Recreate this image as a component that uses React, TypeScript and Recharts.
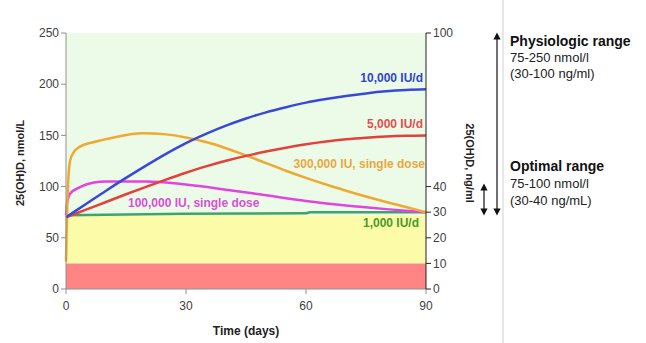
import { ComposedChart, Line, XAxis, YAxis, ReferenceArea } from "recharts"

const dailyDays = [0, 5, 10, 15, 20, 25, 30, 35, 40, 45, 50, 55, 60, 65, 70, 75, 80, 85, 90]
const iu10000 = [70, 83, 96, 108.5, 120.5, 132, 142.5, 151.5, 159.5, 166.5, 172.5, 177.5, 182, 185.5, 188.5, 191, 193, 194.3, 195]
const iu5000 = [70, 77.5, 85, 92.5, 99.8, 106.8, 113.5, 119.7, 125.2, 130, 134.2, 138, 141.3, 144, 146.2, 147.8, 149, 149.7, 150]

const greenDays = [0, 30, 60, 61, 90]
const iu1000 = [72, 73.5, 74, 75, 75]

const bolus300Days = [0, 0.3, 1, 2, 3.5, 7, 12, 19, 25, 30, 35, 40, 45, 50, 55, 60, 65, 70, 75, 80, 85, 90]
const bolus300 = [27, 80, 125, 134, 139, 143.5, 148, 152, 151, 148, 143.5, 137.5, 130.5, 123, 115.5, 108.5, 102, 96, 90.3, 85, 80, 75]

const bolus100Days = [0, 0.3, 1, 3.5, 7, 10, 20, 30, 40, 50, 60, 70, 80, 90]
const bolus100 = [72, 85, 93, 99.5, 104, 105, 105, 102, 97, 91.5, 86, 81.5, 78, 75]

// ng/ml scale only carries the axis
const ngRange = [0, 100]

const xTicks = [0, 30, 60, 90]
const nmolTicks = [0, 50, 100, 150, 200, 250]
const ngTicks = [0, 10, 20, 30, 40, 100]

const toPoints = (days: number[], vals: number[]) => days.map((d, i) => ({ day: d, v: vals[i] }))

const font = "'Liberation Sans', Arial, sans-serif"
const tick = { fontSize: 12, fill: "#404040", fontFamily: font }

export default function App() {
  return (
    <div style={{ position: "absolute", left: 0, top: 0, width: 646, height: 343, background: "#fff" }}>
      <ComposedChart width={646} height={343} margin={{ top: 33, right: 180, bottom: 24, left: 16 }}>
        <ReferenceArea yAxisId="nmol" x1={0} x2={90} y1={72} y2={250} fill="#ebfbe8" fillOpacity={1} />
        <ReferenceArea yAxisId="nmol" x1={0} x2={90} y1={25} y2={72} fill="#fbfba8" fillOpacity={1} />
        <ReferenceArea yAxisId="nmol" x1={0} x2={90} y1={0} y2={25} fill="#ff8585" fillOpacity={1} />
        <XAxis
          dataKey="day"
          type="number"
          domain={[0, 90]}
          ticks={xTicks}
          height={30}
          tick={tick}
          tickSize={5}
          tickMargin={7}
          stroke="#909090"
          allowDuplicatedCategory={false}
          label={{ value: "Time (days)", position: "insideBottom", offset: -16, fontSize: 12, fontWeight: "bold", fill: "#222", fontFamily: font }}
        />
        <YAxis
          yAxisId="nmol"
          domain={[0, 250]}
          ticks={nmolTicks}
          width={50}
          tick={tick}
          tickSize={5}
          stroke="#909090"
          label={{ value: "25(OH)D, nmol/L", angle: -90, position: "insideLeft", offset: 4, dy: 45, fontSize: 11, fontWeight: "bold", fill: "#222", fontFamily: font }}
        />
        <YAxis
          yAxisId="ng"
          orientation="right"
          type="number"
          domain={[0, 100]}
          ticks={ngTicks}
          interval={0}
          width={40}
          tick={tick}
          tickSize={5}
          stroke="#222"
        />
        <Line yAxisId="ng" data={toPoints([0, 90], ngRange)} dataKey="v" stroke="none" dot={false} activeDot={false} isAnimationActive={false} />
        <Line yAxisId="nmol" type="monotone" data={toPoints(greenDays, iu1000)} dataKey="v" stroke="#3fa46c" strokeWidth={2.5} dot={false} isAnimationActive={false} />
        <Line yAxisId="nmol" type="monotone" data={toPoints(bolus100Days, bolus100)} dataKey="v" stroke="#e443e4" strokeWidth={2.5} dot={false} isAnimationActive={false} />
        <Line yAxisId="nmol" type="monotone" data={toPoints(bolus300Days, bolus300)} dataKey="v" stroke="#f0a830" strokeWidth={2.5} dot={false} isAnimationActive={false} />
        <Line yAxisId="nmol" type="monotone" data={toPoints(dailyDays, iu5000)} dataKey="v" stroke="#e2413c" strokeWidth={2.5} dot={false} isAnimationActive={false} />
        <Line yAxisId="nmol" type="monotone" data={toPoints(dailyDays, iu10000)} dataKey="v" stroke="#3a48d8" strokeWidth={2.5} dot={false} isAnimationActive={false} />
      </ComposedChart>
      <svg width={646} height={343} style={{ position: "absolute", left: 0, top: 0, pointerEvents: "none" }} fontFamily={font}>
        <defs>
          <marker id="ah" viewBox="0 0 10 10" refX="5" refY="5" markerWidth="6" markerHeight="6" orient="auto-start-reverse">
            <path d="M0,0 L10,5 L0,10 z" fill="#111" />
          </marker>
        </defs>
        <g fontSize={12} fontWeight="bold" textAnchor="end">
          <text x={423} y={82} fill="#3344cc">10,000 IU/d</text>
          <text x={423} y={128} fill="#e05050">5,000 IU/d</text>
          <text x={425} y={168} fill="#e8a840">300,000 IU, single dose</text>
          <text x={419} y={227} fill="#4a9a2a">1,000 IU/d</text>
        </g>
        <text x={128} y={207} fontSize={12} fontWeight="bold" fill="#d94fd9">100,000 IU, single dose</text>
        <text x={0} y={0} fontSize={11} fontWeight="bold" fill="#222" textAnchor="middle" transform="translate(466,163) rotate(90)">25(OH)D, ng/ml</text>
        <line x1={503} y1={0} x2={503} y2={343} stroke="#d0d0d0" strokeWidth={1} />
        <line x1={497} y1={36} x2={497} y2={212} stroke="#111" strokeWidth={1.2} markerStart="url(#ah)" markerEnd="url(#ah)" />
        <line x1={484} y1={187} x2={484} y2={212} stroke="#111" strokeWidth={1.2} markerStart="url(#ah)" markerEnd="url(#ah)" />
        <text x={510} y={46} fontSize={14} fontWeight="bold" fill="#111">Physiologic range</text>
        <text x={510} y={62} fontSize={13} fill="#222">75-250 nmol/l</text>
        <text x={510} y={78} fontSize={13} fill="#222">(30-100 ng/ml)</text>
        <text x={510} y={171} fontSize={14} fontWeight="bold" fill="#111">Optimal range</text>
        <text x={510} y={188} fontSize={13} fill="#222">75-100 nmol/l</text>
        <text x={510} y={205} fontSize={13} fill="#222">(30-40 ng/mL)</text>
      </svg>
    </div>
  )
}
